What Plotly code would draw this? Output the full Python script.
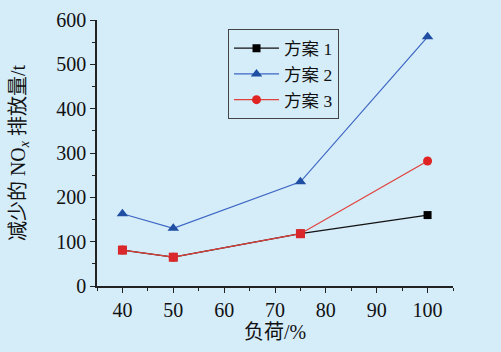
import plotly.graph_objects as go

load = [40, 50, 75, 100]
scheme1 = [81, 65, 118, 160]
scheme2 = [163, 130, 235, 562]
scheme3 = [81, 65, 118, 282]
names = ["方案 1", "方案 2", "方案 3"]
x_ticks = [40, 50, 60, 70, 80, 90, 100]
y_ticks = [0, 100, 200, 300, 400, 500, 600]

BG = "#d5ecf9"
FONT = "Liberation Serif, Times New Roman, Noto Sans CJK SC, serif"

fig = go.Figure()
fig.add_trace(go.Scatter(x=load, y=scheme1, name=names[0], mode="lines+markers",
                         line=dict(color="#111111", width=1.2),
                         marker=dict(symbol="square", size=8, color="#000000")))
fig.add_trace(go.Scatter(x=load, y=scheme2, name=names[1], mode="lines+markers",
                         line=dict(color="#3d66c4", width=1.2),
                         marker=dict(symbol="triangle-up", size=10, color="#1f4ea3")))
fig.add_trace(go.Scatter(x=load, y=scheme3, name=names[2], mode="lines+markers",
                         line=dict(color="#e0403a", width=1.2),
                         marker=dict(symbol="circle", size=9, color="#e02424")))
# overlapping points of scheme 3 drawn as red squares, as in the reference
fig.add_trace(go.Scatter(x=load[:3], y=scheme3[:3], mode="markers", showlegend=False,
                         marker=dict(symbol="square", size=9, color="#d9272b")))

fig.update_layout(
    width=501, height=352,
    paper_bgcolor=BG, plot_bgcolor=BG,
    margin=dict(l=97, r=48, t=20, b=66, autoexpand=False),
    font=dict(family=FONT, size=20, color="#111111"),
    showlegend=True,
    legend=dict(x=0.368, y=0.965, xanchor="left", yanchor="top",
                bgcolor=BG, bordercolor="#444444", borderwidth=1,
                font=dict(size=17.5), tracegroupgap=0, itemwidth=45),
    xaxis=dict(range=[35, 105], tickvals=x_ticks, showgrid=False, zeroline=False,
               automargin=False,
               showline=True, linecolor="#222222", linewidth=1.5,
               ticks="outside", ticklen=5, tickcolor="#222222", tickwidth=1.2,
               minor=dict(ticks="outside", dtick=5, tick0=35, ticklen=3,
                          tickcolor="#222222", showgrid=False),
               tickfont=dict(size=20),
               title=dict(text="负荷/%", font=dict(size=20), standoff=5)),
    yaxis=dict(range=[0, 600], tickvals=y_ticks, showgrid=False, zeroline=False,
               automargin=False,
               showline=True, linecolor="#222222", linewidth=1.5,
               ticks="outside", ticklen=5, tickcolor="#222222", tickwidth=1.2,
               minor=dict(ticks="outside", dtick=50, ticklen=3,
                          tickcolor="#222222", showgrid=False),
               tickfont=dict(size=20),
               title=dict(text="减少的 NO<sub><i>x</i></sub> 排放量/t",
                          font=dict(size=20), standoff=25)),
)

fig.write_html(
    "out.html",
    config={"displayModeBar": False},
    post_script="document.body.style.margin='0';document.body.style.padding='0';"
                "document.body.style.background='" + BG + "';",
)
